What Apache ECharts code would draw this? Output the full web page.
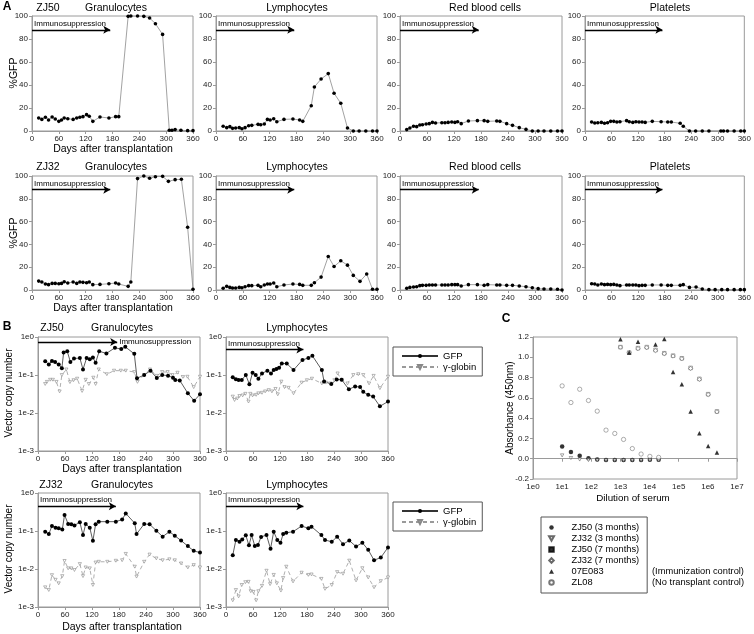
<!DOCTYPE html>
<html><head><meta charset="utf-8">
<script src="https://cdn.jsdelivr.net/npm/echarts@6/dist/echarts.min.js"></script>
<style>html,body{margin:0;padding:0;background:#fff}#c{width:754px;height:634px}</style>
</head><body><div id="c"></div>
<script>
// ---------- Panel A data (%GFP) ----------
const a50GranDays = [15,22,30,37,45,52,60,66,72,80,92,100,107,114,122,128,136,152,172,187,194,215,221,236,250,263,276,292,307,313,320,333,348,360];
const a50GranGfp  = [11.3,10.1,11.9,9.6,12.2,10.4,8.4,9.6,11.3,10.7,10.1,11.3,11.9,12.5,14.2,12.8,8.4,12.2,11.3,12.5,12.5,99.7,100,100,99.7,98.3,93.3,84,0.6,0.6,1.2,0.6,0.3,0.3];
const a50LymDays  = [16,24,31,37,44,52,58,65,73,80,94,100,108,115,121,129,136,152,172,187,194,213,220,235,251,264,279,294,307,320,335,350,360];
const a50LymGfp   = [4.1,2.9,3.8,2.3,2.6,2.9,2.0,2.9,4.6,4.9,5.8,5.5,6.1,10.1,9.6,10.7,8.1,10.1,10.4,9.6,8.4,22,38.3,45.2,49.9,32.8,24.1,2.6,0,0,0,0,0];
const a50RbcDays  = [15,22,30,37,44,50,58,65,72,79,93,100,107,115,122,128,136,152,172,187,195,215,222,237,250,265,280,294,307,320,335,350,360];
const a50RbcGfp   = [1.2,2.6,4.1,3.8,5.2,5.5,6.1,6.4,7.5,7.0,7.2,7.2,7.5,7.8,7.5,8.1,6.4,8.7,9.0,9.0,8.4,8.7,8.4,6.4,4.9,2.9,1.4,0,0,0,0,0,0];
const a50PltDays  = [15,22,29,37,44,51,58,65,72,79,94,100,108,115,122,129,136,152,172,187,195,215,222,236,250,265,280,307,313,322,337,352,360];
const a50PltGfp   = [7.8,7.0,7.2,7.5,6.7,7.2,8.4,8.4,7.8,8.1,9.0,8.1,7.5,8.1,7.8,7.8,7.5,8.4,8.1,7.8,7.8,6.7,4.1,0,0,0,0,0,0,0,0,0,0];
const a32GranDays = [15,22,30,37,45,52,60,66,72,80,92,100,107,114,122,128,136,152,172,187,194,215,221,236,250,263,276,292,305,320,334,348,360];
const a32GranGfp  = [7.8,7.0,5.2,4.7,5.8,5.8,5.5,5.8,7.3,6.1,7.0,5.8,7.0,6.7,6.4,7.0,4.7,4.9,5.5,6.1,5.2,3.2,7.0,97.7,100,98,99.4,99.7,95.3,96.8,97.1,55,0.6];
const a32LymDays  = [16,24,31,37,44,52,58,65,73,80,94,100,108,115,121,129,136,152,172,187,194,213,220,235,251,264,279,294,307,322,337,350,360];
const a32LymGfp   = [1.5,3.2,2.3,1.7,1.7,2.3,2.0,2.9,3.8,3.8,4.1,2.9,4.4,5.2,5.2,6.1,2.9,4.4,5.2,4.9,4.1,4.1,6.4,11.3,29.4,20.6,25.6,21.8,12.8,7.6,14,0.6,0.6];
const a32RbcDays  = [15,22,30,37,44,50,58,65,72,79,93,100,107,115,122,128,136,152,172,187,195,215,222,237,250,265,280,294,307,320,335,350,360];
const a32RbcGfp   = [1.5,2.3,2.6,2.9,3.8,4.1,4.1,4.4,4.4,4.4,4.4,4.4,4.4,4.7,4.7,4.7,3.5,4.7,4.7,4.1,4.7,4.4,4.4,4.1,4.1,3.5,2.9,2.0,1.2,0.9,0.9,0.6,0];
const a32PltDays  = [15,22,29,37,44,51,58,65,72,79,94,100,108,115,122,129,136,152,172,187,195,215,222,236,251,265,280,294,309,322,337,351,360];
const a32PltGfp   = [5.5,5.2,4.4,5.2,4.7,4.9,4.7,4.9,4.4,3.8,4.4,4.4,4.4,4.4,3.8,4.1,4.1,4.4,4.4,4.1,4.1,4.1,4.7,2.3,2.6,0.9,0.3,0.3,0.3,0.3,0.3,0.3,0.3];

// ---------- Panel B data (vector copy number) ----------
const b50GranDays   = [16,24,31,38,46,53,57,65,72,80,93,100,108,115,122,128,136,152,171,185,194,214,220,236,250,264,276,289,300,305,315,333,347,360];
const b50GranGfp    = [0.23,0.19,0.235,0.22,0.19,0.15,0.39,0.42,0.22,0.27,0.28,0.14,0.28,0.26,0.29,0.21,0.42,0.37,0.52,0.48,0.55,0.36,0.082,0.1,0.13,0.083,0.1,0.096,0.085,0.074,0.072,0.033,0.021,0.031];
const b50GranGlbDays= [16,20,27,33,41,48,53,63,71,79,87,98,106,113,123,128,135,153,169,184,195,214,221,236,249,264,276,288,299,310,322,332,346,360];
const b50GranGlobin = [0.058,0.066,0.075,0.075,0.066,0.037,0.1,0.14,0.065,0.073,0.08,0.038,0.075,0.058,0.085,0.058,0.14,0.105,0.13,0.13,0.13,0.12,0.066,0.1,0.14,0.095,0.12,0.12,0.1,0.115,0.089,0.09,0.048,0.09];
const b50LymDays    = [15,22,28,35,44,52,59,66,72,80,92,100,106,112,118,124,135,150,170,183,192,213,218,234,246,257,273,287,298,305,316,327,342,360];
const b50LymGfp     = [0.087,0.077,0.074,0.074,0.1,0.057,0.115,0.1,0.08,0.11,0.13,0.11,0.135,0.143,0.155,0.2,0.2,0.135,0.25,0.28,0.32,0.135,0.067,0.058,0.076,0.075,0.042,0.05,0.048,0.036,0.03,0.027,0.015,0.02];
const b50LymGlbDays = [15,19,25,30,37,43,50,54,59,67,72,80,87,95,102,110,115,123,130,139,150,168,180,191,213,222,231,241,248,257,270,283,294,305,318,328,342,360];
const b50LymGlobin  = [0.027,0.022,0.024,0.028,0.029,0.032,0.020,0.032,0.029,0.03,0.033,0.034,0.037,0.04,0.037,0.043,0.031,0.067,0.048,0.046,0.033,0.063,0.073,0.08,0.06,0.063,0.06,0.073,0.11,0.075,0.06,0.1,0.105,0.1,0.06,0.095,0.045,0.09];
const b32GranDays   = [16,24,31,39,46,54,59,67,74,81,93,100,106,115,122,128,135,154,173,187,195,215,219,236,248,263,277,292,304,318,333,346,360];
const b32GranGfp    = [0.096,0.083,0.135,0.122,0.118,0.11,0.264,0.153,0.15,0.14,0.17,0.078,0.153,0.122,0.055,0.15,0.176,0.176,0.176,0.2,0.29,0.16,0.083,0.153,0.15,0.102,0.071,0.096,0.075,0.056,0.04,0.03,0.027];
const b32GranGlobin = [0.0033,0.0028,0.0069,0.0052,0.0042,0.0065,0.0163,0.0104,0.0104,0.0094,0.0135,0.0065,0.011,0.0104,0.0038,0.0148,0.0155,0.0155,0.0165,0.017,0.025,0.0115,0.0063,0.0155,0.024,0.019,0.017,0.018,0.017,0.014,0.011,0.0127,0.011];
const b32LymDays    = [15,22,30,36,44,51,57,64,71,78,90,99,106,114,121,127,134,149,168,183,190,212,220,235,247,260,274,289,303,316,329,344,360];
const b32LymGfp     = [0.023,0.058,0.052,0.06,0.077,0.042,0.078,0.04,0.043,0.07,0.078,0.034,0.096,0.058,0.049,0.083,0.09,0.096,0.135,0.118,0.13,0.078,0.058,0.052,0.071,0.045,0.056,0.039,0.049,0.032,0.017,0.02,0.037];
const b32LymGlbDays = [15,22,28,35,43,50,55,61,67,72,80,90,98,106,113,122,127,134,149,168,183,190,212,220,235,247,260,274,289,303,316,329,344,360];
const b32LymGlobin  = [0.0015,0.0028,0.0019,0.0038,0.0045,0.0046,0.0026,0.0025,0.0015,0.0026,0.0036,0.009,0.004,0.007,0.0042,0.0027,0.0058,0.0115,0.0047,0.008,0.007,0.0072,0.0055,0.003,0.0038,0.0083,0.0075,0.0166,0.005,0.0105,0.006,0.0033,0.0048,0.006];

// ---------- Panel C data (absorbance) ----------
const dil3mo   = [10,20,40,80,160,320,640,1280,2560,5120,10240,20480];
const zj50m3   = [0.12,0.066,0.03,0.005,-0.008,-0.012,-0.013,-0.013,-0.012,-0.012,-0.01,-0.01];
const zj32m3   = [0.033,0.007,-0.008,-0.013,-0.015,-0.015,-0.015,-0.015,-0.015,-0.015,-0.015,-0.015];
const zl08     = [0.718,0.554,0.685,0.574,0.469,0.282,0.249,0.19,0.10,0.046,0.023,0.013];
const dil7mo   = [1000,2000,4000,8000,16000,32000,64000,128000,256000,512000,1024000,2048000];
const zj50m7   = [1.10,1.046,1.09,1.10,1.072,1.04,1.016,0.99,0.895,0.787,0.636,0.466];
const zj32m7   = [1.10,1.046,1.085,1.095,1.065,1.035,1.012,0.985,0.89,0.782,0.632,0.462];
const e07E083  = [1.177,1.046,1.154,1.203,1.125,1.18,0.856,0.734,0.466,0.252,0.125,0.062];

const aTitles = ['Granulocytes','Lymphocytes','Red blood cells','Platelets'];
const bTitles = ['Granulocytes','Lymphocytes'];
const yTicksA = [0,20,40,60,80,100];

// ---------------------------------------------------
const FF = '"Liberation Sans", Arial, Helvetica, sans-serif';
const zip = (d, v) => d.map((x, i) => [x, v[i]]);
const chart = echarts.init(document.getElementById('c'), null, {renderer: 'canvas'});

const rects = [
  {left:32, top:16, width:161, height:115},
  {left:216, top:16, width:161, height:115},
  {left:400, top:16, width:162, height:115},
  {left:585, top:16, width:161, height:115},
  {left:32, top:176, width:161, height:114},
  {left:216, top:176, width:161, height:114},
  {left:400, top:176, width:162, height:114},
  {left:585, top:176, width:161, height:114},
  {left:38, top:337, width:162, height:114},
  {left:226, top:337, width:162, height:114},
  {left:38, top:493, width:162, height:114},
  {left:226, top:493, width:162, height:114},
  {left:533, top:337, width:204, height:142}
];
const grid = rects.map(r => Object.assign({show:true, borderColor:'#9a9a9a', borderWidth:1, backgroundColor:'transparent', containLabel:false}, r));

const axisCommon = {
  axisLine: {show:true, lineStyle:{color:'#9a9a9a', width:1}},
  axisTick: {show:true, length:3, lineStyle:{color:'#9a9a9a'}},
  axisLabel: {fontSize:8, color:'#222', fontFamily:FF, margin:4},
  splitLine: {show:false}
};
const expFmt = v => '1e' + Math.round(Math.log10(v));
const xAxis = [], yAxis = [];
for (let i = 0; i < 12; i++) {
  xAxis.push(Object.assign({}, axisCommon, {gridIndex:i, type:'value', min:0, max:360, interval:60}));
  if (i < 8) {
    yAxis.push(Object.assign({}, axisCommon, {gridIndex:i, type:'value', min:yTicksA[0], max:yTicksA[yTicksA.length-1], interval:20}));
  } else {
    yAxis.push(Object.assign({}, axisCommon, {gridIndex:i, type:'log', logBase:10, min:0.001, max:1,
      axisLabel: Object.assign({}, axisCommon.axisLabel, {formatter: expFmt})}));
  }
}
xAxis.push(Object.assign({}, axisCommon, {gridIndex:12, type:'log', logBase:10, min:1, max:1e7,
  axisLabel: Object.assign({}, axisCommon.axisLabel, {formatter: expFmt})}));
yAxis.push(Object.assign({}, axisCommon, {gridIndex:12, type:'value', min:-0.2, max:1.2, interval:0.2,
  axisLabel: Object.assign({}, axisCommon.axisLabel, {formatter: v => Math.abs(v) < 1e-9 ? '0.0' : v.toFixed(1)})}));

function arrow(y, xEnd, pos) {
  return {
    silent: true, symbol: ['none','arrow'], symbolSize: [6, 7], animation:false,
    lineStyle: {color:'#000', width:1.4, type:'solid'},
    label: {show:true, position: pos, formatter:'Immunosuppression', fontSize:8, color:'#000', fontFamily:FF, distance:2},
    emphasis: {disabled:true},
    data: [[{coord:[0, y]}, {coord:[xEnd, y]}]]
  };
}

// marker shapes
const P_TRI_DOWN = 'path://M0,0L10,0L5,9Z';
const P_CIRCLE   = 'path://M10,5A5,5,0,1,1,0,5A5,5,0,1,1,10,5Z';
const P_DIAMOND  = 'path://M5,0L10,5L5,10L0,5Z';
const P_RECT     = 'path://M0,0L10,0L10,10L0,10Z';
const P_TRI_UP   = 'path://M5,0L10,9L0,9Z';

const series = [];
const aSets = [
  [a50GranDays,a50GranGfp],[a50LymDays,a50LymGfp],[a50RbcDays,a50RbcGfp],[a50PltDays,a50PltGfp],
  [a32GranDays,a32GranGfp],[a32LymDays,a32LymGfp],[a32RbcDays,a32RbcGfp],[a32PltDays,a32PltGfp]
];
aSets.forEach((s, i) => {
  series.push({
    type:'line', name:'A' + i, xAxisIndex:i, yAxisIndex:i, data: zip(s[0], s[1]),
    symbol:'circle', symbolSize:3.6, itemStyle:{color:'#000', borderWidth:0},
    lineStyle:{color:'#8a8a8a', width:0.8}, emphasis:{disabled:true},
    markLine: arrow(88, 175, 'insideStartTop')
  });
});

const bSets = [
  [b50GranDays,b50GranGfp,b50GranGlbDays,b50GranGlobin, 0.74, 176, 'end'],
  [b50LymDays,b50LymGfp,b50LymGlbDays,b50LymGlobin, 0.47, 172, 'insideStartTop'],
  [b32GranDays,b32GranGfp,b32GranDays,b32GranGlobin, 0.45, 173, 'insideStartTop'],
  [b32LymDays,b32LymGfp,b32LymGlbDays,b32LymGlobin, 0.45, 172, 'insideStartTop']
];
bSets.forEach((s, k) => {
  const gi = 8 + k;
  series.push({
    type:'line', name:'γ-globin', xAxisIndex:gi, yAxisIndex:gi, data: zip(s[2], s[3]),
    symbol: P_TRI_DOWN, symbolSize:[3.2,2.9], itemStyle:{color:'#fff', borderColor:'#888', borderWidth:0.6},
    lineStyle:{color:'#9a9a9a', width:0.8, type:[4,3]}, emphasis:{disabled:true}
  });
  series.push({
    type:'line', name:'GFP', xAxisIndex:gi, yAxisIndex:gi, data: zip(s[0], s[1]),
    symbol:'circle', symbolSize:4, itemStyle:{color:'#000', borderWidth:0},
    lineStyle:{color:'#333', width:0.8}, emphasis:{disabled:true},
    markLine: arrow(s[4], s[5], s[6])
  });
});

const openStyle = {color:'#fff', borderColor:'#444', borderWidth:0.6};
const cSeries = [
  {name:'ZJ50 (3 months)', x:dil3mo, y:zj50m3, symbol:P_CIRCLE, size:4.5, style:{color:'#000', borderWidth:0}},
  {name:'ZJ32 (3 months)', x:dil3mo, y:zj32m3, symbol:P_TRI_DOWN, size:[3.4,3.1], style:openStyle},
  {name:'ZJ50 (7 months)', x:dil7mo, y:zj50m7, symbol:P_RECT, size:3.6, style:openStyle},
  {name:'ZJ32 (7 months)', x:dil7mo, y:zj32m7, symbol:P_DIAMOND, size:4.2, style:openStyle},
  {name:'07E083', x:dil7mo, y:e07E083, symbol:P_TRI_UP, size:4.5, style:{color:'#000', borderWidth:0}},
  {name:'ZL08', x:dil3mo, y:zl08, symbol:P_CIRCLE, size:4.3, style:{color:'#fff', borderColor:'#555', borderWidth:0.6}}
];
cSeries.forEach(c => {
  series.push({type:'scatter', name:c.name, xAxisIndex:12, yAxisIndex:12, data: zip(c.x, c.y),
    symbol:c.symbol, symbolSize:c.size, itemStyle:c.style, emphasis:{disabled:true}});
});

function txt(text, x, y, size, opts) {
  opts = opts || {};
  return {
    type:'text', x:x, y:y, rotation: opts.rot || 0, silent:true,
    style:{text:text, fill:'#000', font:(opts.bold ? 'bold ' : '') + size + 'px ' + FF,
      align: opts.align || 'center', verticalAlign:'middle',
      textAlign: opts.align || 'center', textVerticalAlign:'middle'}
  };
}
const graphic = [
  txt('A', 7, 7, 12, {bold:true}),
  txt('ZJ50', 48, 8, 10.5),
  txt(aTitles[0], 116, 8, 10.5), txt(aTitles[1], 297, 8, 10.5), txt(aTitles[2], 485, 8, 10.5), txt(aTitles[3], 670, 8, 10.5),
  txt('ZJ32', 48, 167, 10.5),
  txt(aTitles[0], 116, 167, 10.5), txt(aTitles[1], 297, 167, 10.5), txt(aTitles[2], 485, 167, 10.5), txt(aTitles[3], 670, 167, 10.5),
  txt('%GFP', 14, 73, 10.5, {rot:Math.PI/2}),
  txt('%GFP', 14, 233, 10.5, {rot:Math.PI/2}),
  txt('Days after transplantation', 113, 149, 10.5),
  txt('Days after transplantation', 113, 308, 10.5),
  txt('B', 7, 327, 12, {bold:true}),
  txt('ZJ50', 52, 328, 10.5), txt(bTitles[0], 122, 328, 10.5), txt(bTitles[1], 297, 328, 10.5),
  txt('Vector copy number', 9, 393, 10, {rot:Math.PI/2}),
  txt('Days after transplantation', 122, 469, 10.5),
  txt('ZJ32', 51, 485, 10.5), txt(bTitles[0], 122, 485, 10.5), txt(bTitles[1], 297, 485, 10.5),
  txt('Vector copy number', 9, 549, 10, {rot:Math.PI/2}),
  txt('Days after transplantation', 122, 627, 10.5),
  txt('C', 506, 319, 12, {bold:true}),
  txt('Absorbance (450nm)', 510, 408, 10, {rot:Math.PI/2}),
  txt('Dilution of serum', 633, 498, 9.8),
  txt('(Immunization control)', 652, 571.5, 9.3, {align:'left'}),
  txt('(No transplant control)', 652, 582.5, 9.3, {align:'left'})
];

const legendB = (top) => ({
  left:393, top:top, orient:'vertical', data:['GFP','γ-globin'], selectedMode:false,
  itemWidth:36, itemHeight:5, itemGap:1, borderColor:'#555', borderWidth:1, padding:[4,6,4,8],
  textStyle:{fontSize:9.5, fontFamily:FF, color:'#000'}
});
const legendC = {
  left:541, top:517, orient:'vertical', selectedMode:false,
  data: cSeries.map(c => c.name === 'ZJ50 (7 months)'
      ? {name:c.name, itemStyle:{color:'#000', borderColor:'#000'}} : c.name),
  itemWidth:6, itemHeight:4.5, itemGap:0, borderColor:'#555', borderWidth:1, padding:[5,8,5,7],
  textStyle:{fontSize:9.3, fontFamily:FF, color:'#000', padding:[0,0,0,12], lineHeight:11}
};

chart.setOption({
  animation:false,
  textStyle:{fontFamily:FF},
  grid, xAxis, yAxis, series, graphic,
  legend:[legendB(347), legendB(502), legendC]
});
</script>
</body></html>
